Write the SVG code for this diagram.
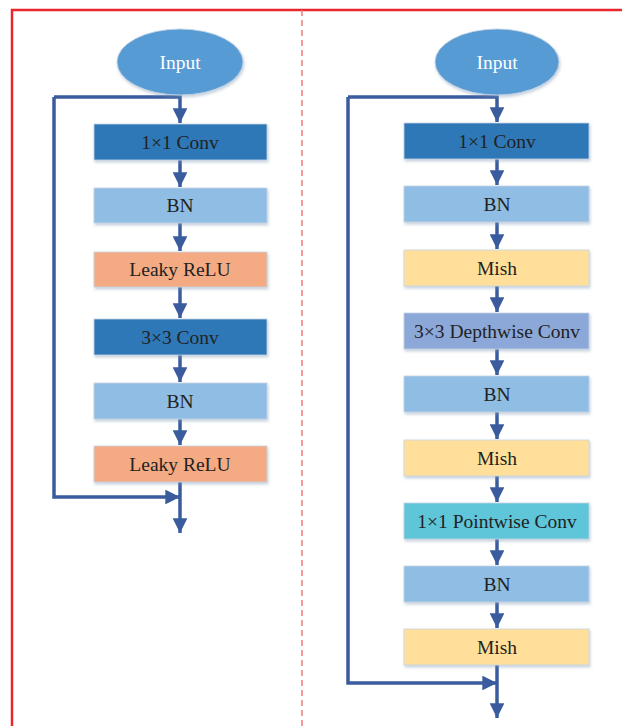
<svg xmlns="http://www.w3.org/2000/svg" width="622" height="726" viewBox="0 0 622 726">
<defs>
<marker id="ah" viewBox="0 0 10 10" refX="10" refY="5" markerWidth="4.2" markerHeight="4.2" markerUnits="strokeWidth" orient="auto"><path d="M0,0 L10,5 L0,10 Z" fill="#3A5C9F"/></marker>
<filter id="sh" x="-10%" y="-20%" width="120%" height="150%"><feDropShadow dx="1" dy="2" stdDeviation="1.5" flood-color="#7f95b5" flood-opacity="0.45"/></filter>
</defs>
<style>
.b{stroke:#c8d4e4;stroke-width:0.8;filter:url(#sh)}
.t{font-family:"Liberation Serif","Times New Roman",serif;font-size:19.5px;fill:#222;text-anchor:middle;dominant-baseline:central}
.w{font-family:"Liberation Serif","Times New Roman",serif;font-size:19.5px;fill:#fff;text-anchor:middle;dominant-baseline:central}
.c{fill:none;stroke:#3A5C9F;stroke-width:3.5}
.dk{fill:#2E78B8}.lb{fill:#8FBDE3}.or{fill:#F4AB84}.ye{fill:#FFDF99}.dw{fill:#8BA8D9}.pw{fill:#5EC5D9}
</style>
<rect width="622" height="726" fill="#fff"/>
<path d="M12,726 L12,10 L622,10" fill="none" stroke="#E8262C" stroke-width="2.5"/>
<line x1="302" y1="10" x2="302" y2="726" stroke="#EE7A7A" stroke-width="1.5" stroke-dasharray="6,4"/>
<g id="connectors">
<path class="c" d="M54,97 L180,97 L180,123" marker-end="url(#ah)"/>
<path class="c" d="M54,97 L54,497 L180,497" marker-end="url(#ah)"/>
<path class="c" d="M180,160 L180,187" marker-end="url(#ah)"/>
<path class="c" d="M180,223 L180,251" marker-end="url(#ah)"/>
<path class="c" d="M180,287 L180,318" marker-end="url(#ah)"/>
<path class="c" d="M180,355 L180,382" marker-end="url(#ah)"/>
<path class="c" d="M180,419 L180,445" marker-end="url(#ah)"/>
<path class="c" d="M180,482 L180,533" marker-end="url(#ah)"/>
<path class="c" d="M348,97 L497,97 L497,122" marker-end="url(#ah)"/>
<path class="c" d="M348,97 L348,683 L497,683" marker-end="url(#ah)"/>
<path class="c" d="M497,159 L497,185" marker-end="url(#ah)"/>
<path class="c" d="M497,222 L497,249" marker-end="url(#ah)"/>
<path class="c" d="M497,286 L497,312" marker-end="url(#ah)"/>
<path class="c" d="M497,349 L497,375" marker-end="url(#ah)"/>
<path class="c" d="M497,412 L497,439" marker-end="url(#ah)"/>
<path class="c" d="M497,476 L497,502" marker-end="url(#ah)"/>
<path class="c" d="M497,539 L497,565" marker-end="url(#ah)"/>
<path class="c" d="M497,602 L497,628" marker-end="url(#ah)"/>
<path class="c" d="M497,665 L497,718" marker-end="url(#ah)"/>
</g>
<g id="l-input"><ellipse cx="180" cy="62" rx="63" ry="33" fill="#569BD4" class="b"/><text class="w" x="180" y="62">Input</text></g>
<g id="l-conv1"><rect class="b dk" x="94" y="124" width="173" height="36"/><text class="t" x="180" y="142">1×1 Conv</text></g>
<g id="l-bn1"><rect class="b lb" x="94" y="188" width="173" height="35"/><text class="t" x="180" y="205">BN</text></g>
<g id="l-relu1"><rect class="b or" x="94" y="252" width="173" height="35"/><text class="t" x="180" y="269">Leaky ReLU</text></g>
<g id="l-conv3"><rect class="b dk" x="94" y="319" width="173" height="36"/><text class="t" x="180" y="337">3×3 Conv</text></g>
<g id="l-bn2"><rect class="b lb" x="94" y="383" width="173" height="36"/><text class="t" x="180" y="401">BN</text></g>
<g id="l-relu2"><rect class="b or" x="94" y="446" width="173" height="36"/><text class="t" x="180" y="464">Leaky ReLU</text></g>
<g id="r-input"><ellipse cx="497" cy="62" rx="62" ry="33" fill="#569BD4" class="b"/><text class="w" x="497" y="62">Input</text></g>
<g id="r-conv1"><rect class="b dk" x="404" y="123" width="185" height="36"/><text class="t" x="497" y="141">1×1 Conv</text></g>
<g id="r-bn1"><rect class="b lb" x="404" y="186" width="185" height="36"/><text class="t" x="497" y="204">BN</text></g>
<g id="r-mish1"><rect class="b ye" x="404" y="250" width="185" height="36"/><text class="t" x="497" y="268">Mish</text></g>
<g id="r-dw"><rect class="b dw" x="404" y="313" width="185" height="36"/><text class="t" x="497" y="331">3×3 Depthwise Conv</text></g>
<g id="r-bn2"><rect class="b lb" x="404" y="376" width="185" height="36"/><text class="t" x="497" y="394">BN</text></g>
<g id="r-mish2"><rect class="b ye" x="404" y="440" width="185" height="36"/><text class="t" x="497" y="458">Mish</text></g>
<g id="r-pw"><rect class="b pw" x="404" y="503" width="185" height="36"/><text class="t" x="497" y="521">1×1 Pointwise Conv</text></g>
<g id="r-bn3"><rect class="b lb" x="404" y="566" width="185" height="36"/><text class="t" x="497" y="584">BN</text></g>
<g id="r-mish3"><rect class="b ye" x="404" y="629" width="185" height="36"/><text class="t" x="497" y="647">Mish</text></g>
</svg>
